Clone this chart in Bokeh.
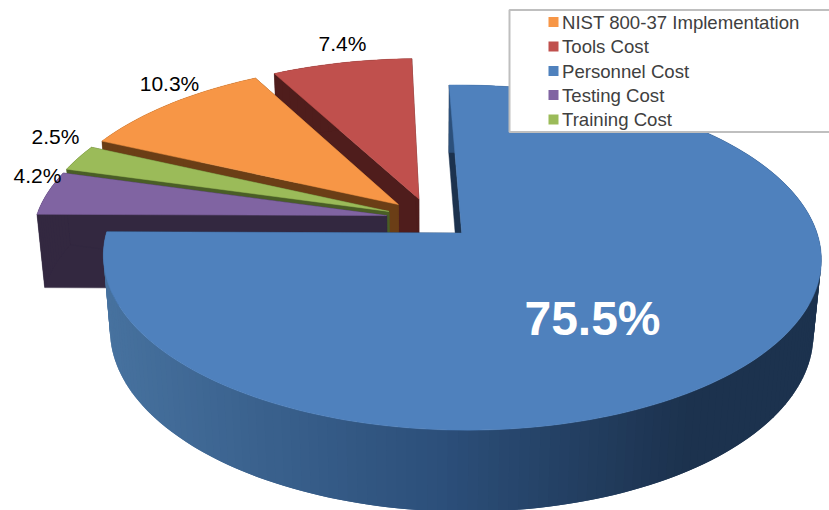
import math
from bokeh.plotting import figure
from bokeh.core.properties import value
from bokeh.embed import file_html
from bokeh.resources import INLINE

# data (clockwise from 12 o'clock, as the pie is drawn)
categories = ["Personnel Cost", "Testing Cost", "Training Cost", "NIST 800-37 Implementation", "Tools Cost"]
shares = [75.5, 4.2, 2.5, 10.3, 7.4]
top_colors = ["#4F81BD", "#8064A2", "#9BBB59", "#F79646", "#C0504D"]
wall_colors = ["#1C324E", "#332840", "#4A5E26", "#6B3E16", "#4F1D1C"]
legend_order = ["NIST 800-37 Implementation", "Tools Cost", "Personnel Cost", "Testing Cost", "Training Cost"]
labels = ["75.5%", "4.2%", "2.5%", "10.3%", "7.4%"]

# projection of the tilted disc
CX, CY, R, Q, K, D, M = 429.5, 218.0, 351.0, 165.0, 0.14, 75.0, 0.02
EXPLODE = 0.125
ROTATION = math.radians(-1.6)

def project(u, v, z=0.0):
    w = 1 + K * v + M * z
    return CX + R * u / w, CY - (Q * v - D * z) / w

total = sum(shares)
p = figure(width=829, height=510, x_range=(0, 829), y_range=(510, 0),
           output_backend="svg", toolbar_location=None, min_border=0,
           outline_line_color=None, background_fill_color="white")
p.axis.visible = False
p.grid.visible = False

def mix(a, b, t):
    ca = [int(a[i:i + 2], 16) for i in (1, 3, 5)]
    cb = [int(b[i:i + 2], 16) for i in (1, 3, 5)]
    return "#%02x%02x%02x" % tuple(round(x + (y - x) * t) for x, y in zip(ca, cb))

spans = []
acc = 0.0
for s in shares:
    spans.append((ROTATION + acc / total * 2 * math.pi, ROTATION + (acc + s) / total * 2 * math.pi))
    acc += s

def disc(th, ox, oy, r=1.0):
    return ox + r * math.sin(th), oy + r * math.cos(th)

for i in [4, 3, 2, 1, 0]:
    a, b = spans[i]
    mid = (a + b) / 2
    ox, oy = EXPLODE * math.sin(mid), EXPLODE * math.cos(mid)
    n = max(12, int((b - a) * 40))
    arc = [a + (b - a) * j / n for j in range(n + 1)]
    rim = [disc(t, ox, oy) for t in arc]
    # radial walls
    for e in (rim[0], rim[-1]):
        pts = [project(ox, oy), project(*e), project(e[0], e[1], 1), project(ox, oy, 1)]
        p.patch([q[0] for q in pts], [q[1] for q in pts], fill_color=wall_colors[i], line_color=wall_colors[i], line_width=0.5)
    # rim wall (quads overlap their neighbour so no seams show)
    xs, ys, cs = [], [], []
    for j in range(n):
        k = min(j + 2, n)
        q = [project(*rim[j]), project(*rim[k]), project(rim[k][0], rim[k][1], 1), project(rim[j][0], rim[j][1], 1)]
        xs.append([c[0] for c in q]); ys.append([c[1] for c in q])
        if i == 0:
            t = min(max((q[0][0] - 105) / 700, 0), 1)
            c = mix("#47729F", "#2C4F7A", t / 0.5) if t < 0.5 else mix("#2C4F7A", "#1C324E", min((t - 0.5) / 0.35, 1))
        else:
            c = wall_colors[i]
        cs.append(c)
    if i == 0:
        # paint from the right-hand end so lighter quads overlap consistently
        xs, ys, cs = xs[::-1], ys[::-1], cs[::-1]
    p.patches(xs, ys, fill_color=cs, line_color=None)
    # top
    pts = [project(ox, oy)] + [project(*e) for e in rim]
    p.patch([q[0] for q in pts], [q[1] for q in pts], fill_color=top_colors[i], line_color=top_colors[i], line_width=0.5)

# data labels
LABEL_XY = [(592, 318), (37, 175), (55, 136), (169, 83), (342, 43)]
for i, lab in enumerate(labels):
    big = i == 0
    p.text([LABEL_XY[i][0]], [LABEL_XY[i][1]], text=[lab], text_align="center", text_baseline="middle",
           text_font=value("Liberation Sans"), text_font_size="48px" if big else "21px",
           text_font_style="bold" if big else "normal", text_color="white" if big else "#000000")

# legend box
p.quad(left=[509], right=[830], top=[9.5], bottom=[131.5], fill_color="white", line_color="#BFBFBF", line_width=2)
row_y = [21.5, 46, 70.5, 94.5, 119]
for name, y in zip(legend_order, row_y):
    c = top_colors[categories.index(name)]
    p.quad(left=[548], right=[558], top=[y - 5], bottom=[y + 5], fill_color=c, line_color=None)
    p.text([561.5], [y], text=[name], text_baseline="middle", text_font=value("Liberation Sans"),
           text_font_size="18.6px", text_color="#404040")

open("out.html", "w").write(file_html(p, INLINE))
